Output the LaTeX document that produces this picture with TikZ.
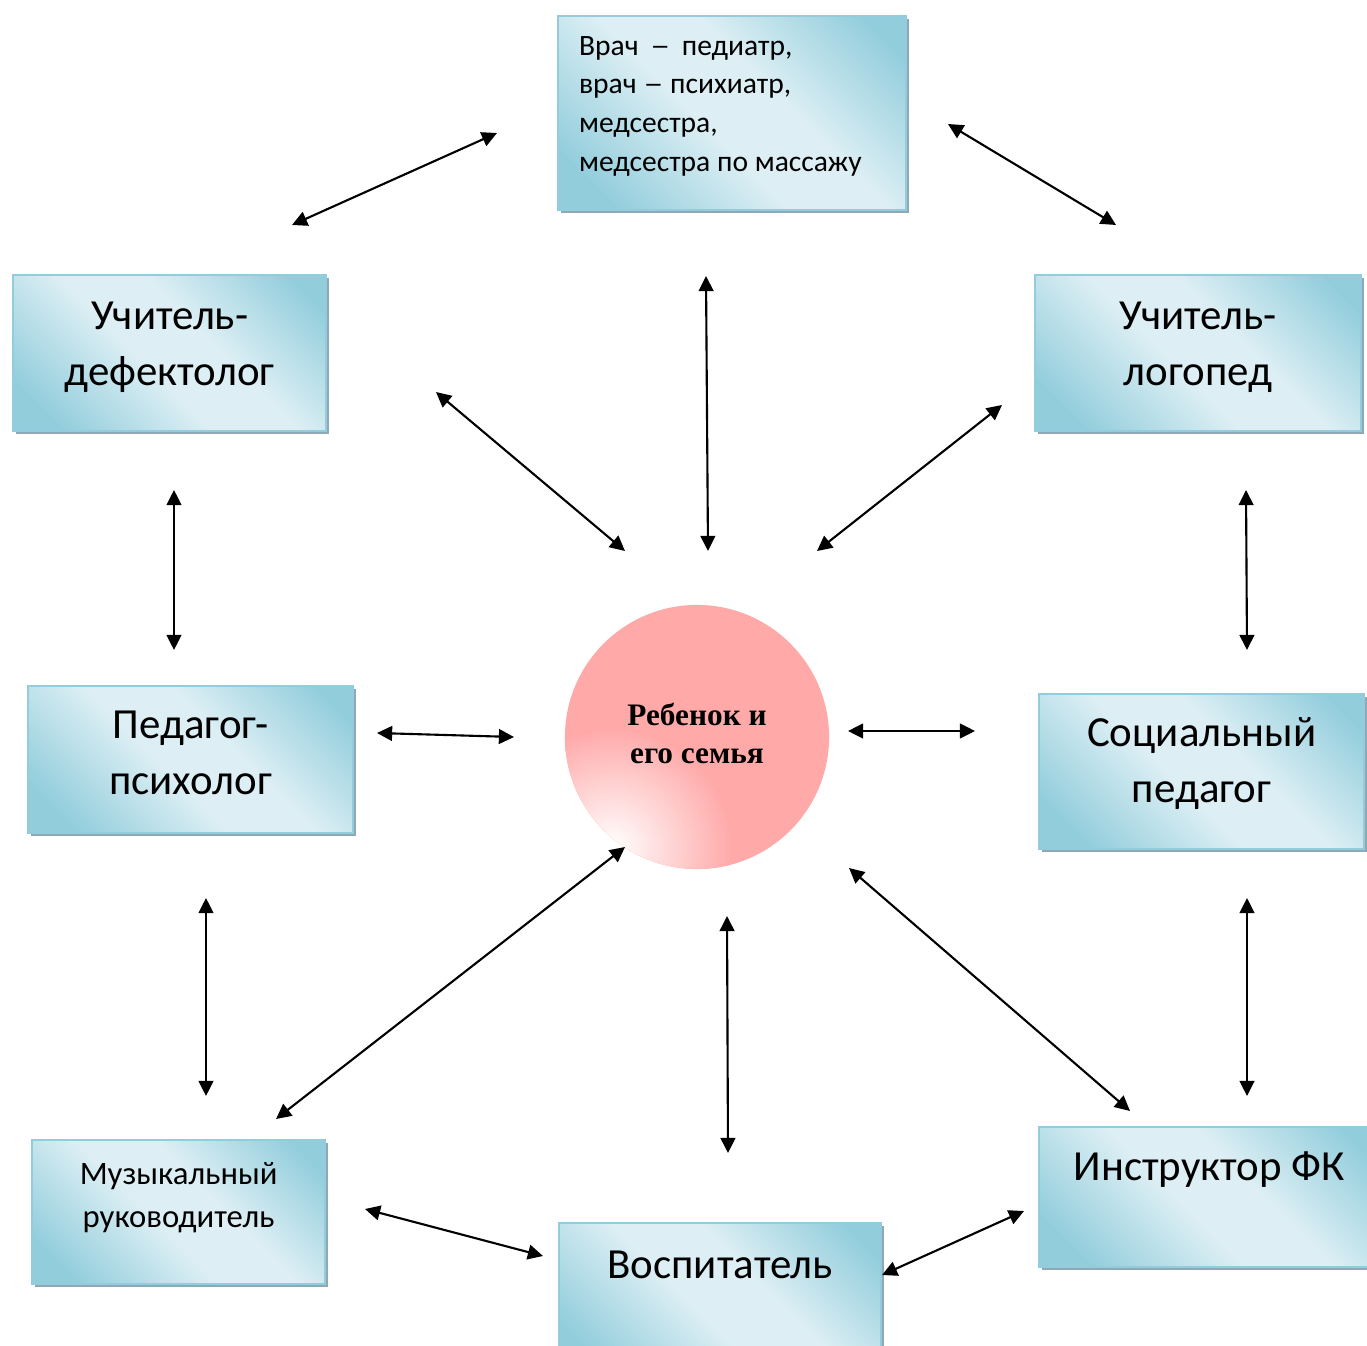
\documentclass[tikz,border=0pt]{standalone}
\usepackage{fontspec}
\setmainfont{Carlito}
\newfontfamily\timesfont{Liberation Serif}
\usetikzlibrary{arrows.meta,shadows,positioning}
\definecolor{aquadark}{HTML}{92CDDC}
\definecolor{aqualight}{HTML}{DDEFF4}
\definecolor{aquaedge}{HTML}{93CCDC}
\definecolor{shadowgray}{HTML}{8EA8B6}
\definecolor{childpink}{HTML}{FFA9A9}
\pgfdeclarehorizontalshading{aquashade}{100bp}{color(0bp)=(aquadark); color(22bp)=(aquadark);
  color(45bp)=(aqualight); color(58bp)=(aqualight); color(80bp)=(aquadark); color(100bp)=(aquadark)}
\newcommand\longdash{\scalebox{1.35}[1]{–}}
\tikzset{>={Triangle[length=4.3pt,width=4.2pt]}}
\tikzset{
  staff/.style={rectangle, anchor=north west, draw=aquaedge, line width=0.6pt, shading=aquashade,
    shading angle=45, drop shadow={shadow xshift=0.03cm, shadow yshift=-0.03cm, fill=shadowgray, opacity=1},
    align=center, inner ysep=0pt, inner xsep=0pt, font=\fontsize{12.2}{15.8}\selectfont},
  link/.style={<->, line width=0.6pt},
}

\begin{document}
\begin{tikzpicture}[x=0.01cm, y=-0.01cm]
  \useasboundingbox (0,0) rectangle (1367,1346);

  % Nodes
  \node[staff, minimum width=3.48cm, align=left, text width=3.06cm,
    font=\fontsize{8.4}{11}\selectfont, text height=0.39cm, text depth=1.55cm] (doctors)  at (557,15)
    {\spaceskip=0.23em\relax Врач \,\longdash\ \,педиатр,\\врач \longdash\ психиатр,\\медсестра,\\медсестра по массажу};
  \node[staff, minimum width=3.13cm, text height=1.10cm, text depth=0.46cm]    (defekt)   at (12,274)   {Учитель-\\дефектолог};
  \node[staff, minimum width=3.26cm, text height=1.10cm, text depth=0.46cm]    (logoped)  at (1034,274) {Учитель-\\логопед};
  \node[staff, minimum width=3.25cm, text height=1.08cm, text depth=0.39cm]    (psych)    at (27,685)   {Педагог-\\психолог};
  \node[staff, minimum width=3.25cm, text height=1.08cm, text depth=0.47cm]    (social)   at (1038,693) {Социальный\\педагог};
  \node[staff, minimum width=2.93cm, font=\fontsize{9.3}{12.2}\selectfont,
    text height=0.87cm, text depth=0.57cm]                                     (music)    at (31,1139)  {Музыкальный\\руководитель};
  \node[staff, minimum width=3.22cm, text height=0.55cm, text depth=0.95cm]    (educator) at (558,1222) {Воспитатель};
  \node[staff, minimum width=3.4cm, text height=0.53cm, text depth=0.87cm]     (sport)    at (1038,1126) {Инструктор ФК};

  % Child
  \node[circle, minimum size=2.64cm, fill=childpink, inner sep=0pt] (child) at (697,737) {};
  \begin{scope}
    \clip (child.center) circle (132);
    \shade[inner color=white, outer color=childpink] (612,848) circle (120);
  \end{scope}
  \node[align=center, font=\timesfont\bfseries\fontsize{8.9}{10.8}\selectfont] (childtext) at (697,733)
    {Ребенок и\\его семья};

  % Arrow ends
  \coordinate (dd1) at (292,225);   \coordinate (dd2) at (497,133);
  \coordinate (dl1) at (948,124);   \coordinate (dl2) at (1116,225);
  \coordinate (dc1) at (706,276);   \coordinate (dc2) at (708,551);
  \coordinate (fc1) at (436,392);   \coordinate (fc2) at (625,551);
  \coordinate (lc1) at (1002,405);  \coordinate (lc2) at (817,551);
  \coordinate (fp1) at (174,490);   \coordinate (fp2) at (174,650);
  \coordinate (ls1) at (1246,490);  \coordinate (ls2) at (1247,650);
  \coordinate (pc1) at (377,733);   \coordinate (pc2) at (514,737);
  \coordinate (cs1) at (848,731);   \coordinate (cs2) at (975,731);
  \coordinate (cm1) at (625,847);   \coordinate (cm2) at (276,1119);
  \coordinate (ci1) at (849,868);   \coordinate (ci2) at (1130,1111);
  \coordinate (ce1) at (727,916);   \coordinate (ce2) at (728,1153);
  \coordinate (pm1) at (206,898);   \coordinate (pm2) at (206,1096);
  \coordinate (si1) at (1247,898);  \coordinate (si2) at (1247,1096);
  \coordinate (me1) at (365,1209);  \coordinate (me2) at (543,1256);
  \coordinate (ei1) at (882,1275);  \coordinate (ei2) at (1024,1211);

  % Edges
  \draw[link] (dd1) -- (dd2);
  \draw[link] (dl1) -- (dl2);
  \draw[link] (dc1) -- (dc2);
  \draw[link] (fc1) -- (fc2);
  \draw[link] (lc1) -- (lc2);
  \draw[link] (fp1) -- (fp2);
  \draw[link] (ls1) -- (ls2);
  \draw[link] (pc1) -- (pc2);
  \draw[link] (cs1) -- (cs2);
  \draw[link] (cm1) -- (cm2);
  \draw[link] (ci1) -- (ci2);
  \draw[link] (ce1) -- (ce2);
  \draw[link] (pm1) -- (pm2);
  \draw[link] (si1) -- (si2);
  \draw[link] (me1) -- (me2);
  \draw[link] (ei1) -- (ei2);
\end{tikzpicture}
\end{document}
